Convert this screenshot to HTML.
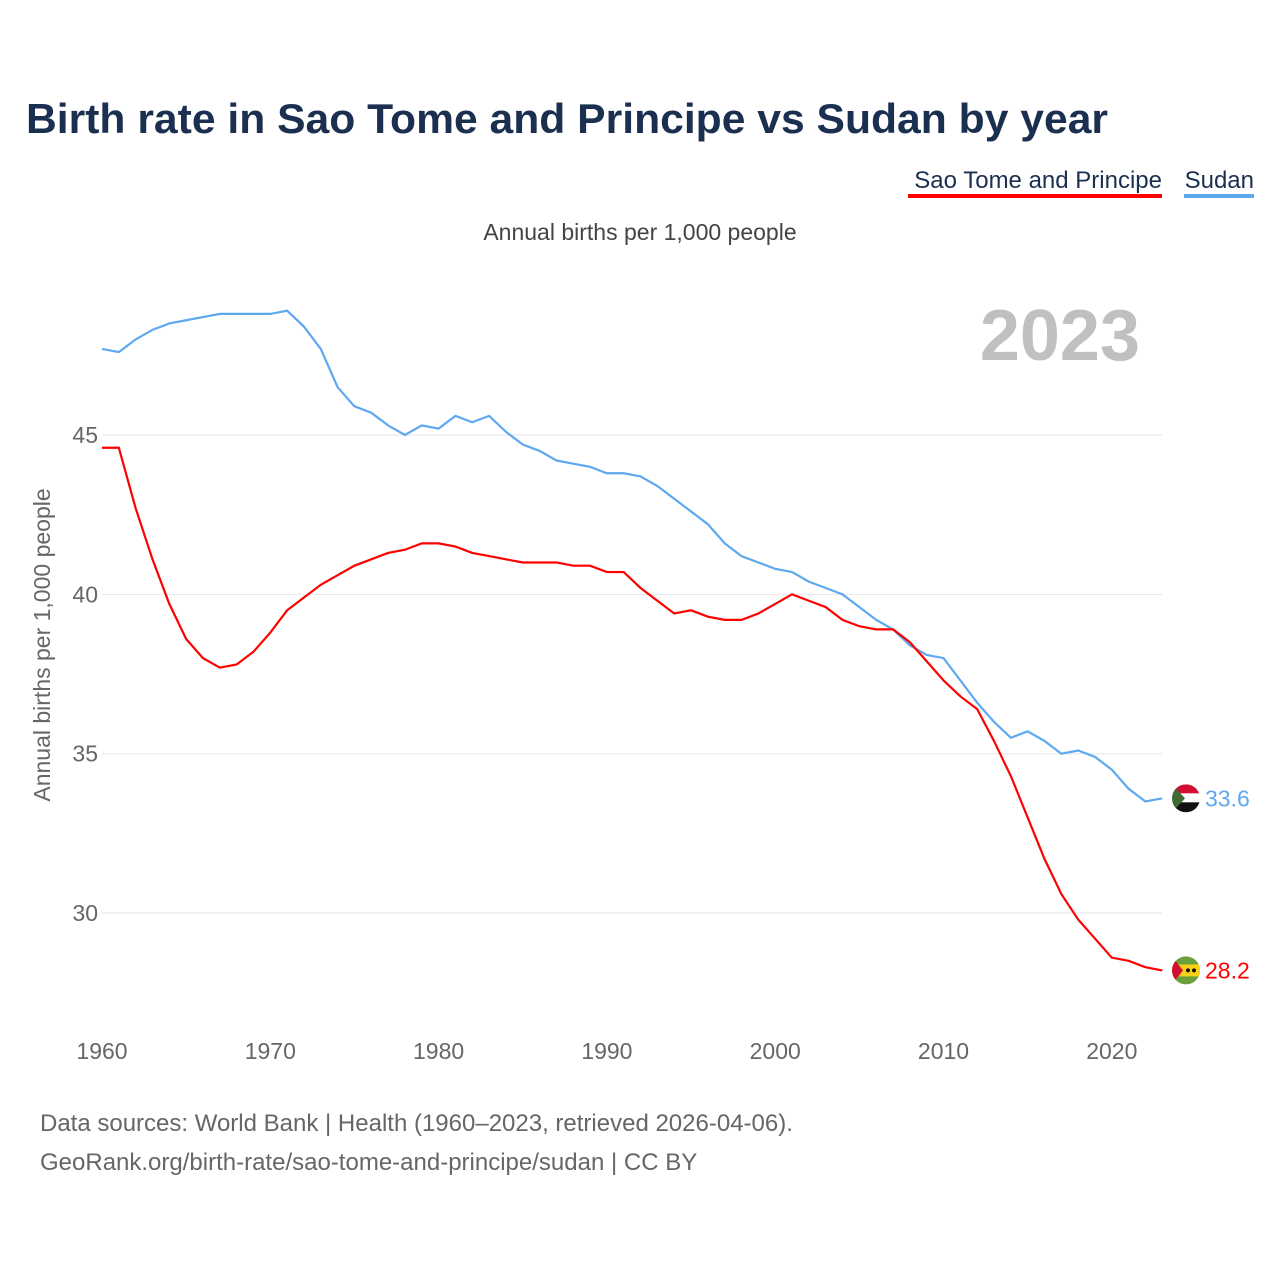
<!DOCTYPE html>
<html><head><meta charset="utf-8"><style>
body{margin:0;background:#fff;font-family:"Liberation Sans",sans-serif}
svg text{font-family:"Liberation Sans",sans-serif}
</style></head><body>
<svg id="chart" width="1280" height="1280" viewBox="0 0 1280 1280">
<defs>
<clipPath id="cs"><circle cx="1186" cy="798" r="14"/></clipPath>
<clipPath id="cp"><circle cx="1186" cy="970" r="14"/></clipPath>
</defs>
<text x="26" y="133" font-size="42" font-weight="bold" fill="#1b3050" textLength="1082" lengthAdjust="spacingAndGlyphs">Birth rate in Sao Tome and Principe vs Sudan by year</text>
<g><text x="1162" y="188" font-size="24" text-anchor="end" fill="#1b3050">Sao Tome and Principe</text><rect x="908" y="194" width="254" height="4" fill="#ff0000"/></g>
<g><text x="1254" y="188" font-size="24" text-anchor="end" fill="#1b3050">Sudan</text><rect x="1184" y="194" width="70" height="4" fill="#5ea8f0"/></g>
<text x="640" y="240" font-size="23" text-anchor="middle" fill="#444">Annual births per 1,000 people</text>
<text x="1140" y="360" font-size="72" font-weight="bold" text-anchor="end" fill="#c0c0c0">2023</text>
<text transform="translate(50,645) rotate(-90)" font-size="23" text-anchor="middle" fill="#666">Annual births per 1,000 people</text>
<g id="grid"></g><g id="xt"></g><g id="lines"></g>
<text x="40" y="1131" font-size="24" fill="#666">Data sources: World Bank | Health (1960–2023, retrieved 2026-04-06).</text>
<text x="40" y="1170" font-size="24" fill="#666">GeoRank.org/birth-rate/sao-tome-and-principe/sudan | CC BY</text>
</svg>
<script>
const years=[];for(let y=1960;y<=2023;y++)years.push(y);
const sudan=[47.7,47.6,48.0,48.3,48.5,48.6,48.7,48.8,48.8,48.8,48.8,48.9,48.4,47.7,46.5,45.9,45.7,45.3,45.0,45.3,45.2,45.6,45.4,45.6,45.1,44.7,44.5,44.2,44.1,44.0,43.8,43.8,43.7,43.4,43.0,42.6,42.2,41.6,41.2,41.0,40.8,40.7,40.4,40.2,40.0,39.6,39.2,38.9,38.4,38.1,38.0,37.3,36.6,36.0,35.5,35.7,35.4,35.0,35.1,34.9,34.5,33.9,33.5,33.6];
const stp=[44.6,44.6,42.7,41.1,39.7,38.6,38.0,37.7,37.8,38.2,38.8,39.5,39.9,40.3,40.6,40.9,41.1,41.3,41.4,41.6,41.6,41.5,41.3,41.2,41.1,41.0,41.0,41.0,40.9,40.9,40.7,40.7,40.2,39.8,39.4,39.5,39.3,39.2,39.2,39.4,39.7,40.0,39.8,39.6,39.2,39.0,38.9,38.9,38.5,37.9,37.3,36.8,36.4,35.4,34.3,33.0,31.7,30.6,29.8,29.2,28.6,28.5,28.3,28.2];
const yTicks=[30,35,40,45];
const xTicks=[1960,1970,1980,1990,2000,2010,2020];
const X=y=>102+(y-1960)*16.83, Y=v=>435-(v-45)*31.87;
const NS="http://www.w3.org/2000/svg";
function mk(t,a,p){const e=document.createElementNS(NS,t);for(const k in a)e.setAttribute(k,a[k]);p.appendChild(e);return e;}
const g=document.getElementById('grid'),xt=document.getElementById('xt'),L=document.getElementById('lines');
yTicks.forEach(v=>{const l=mk('line',{x1:102,x2:1162,y1:Y(v),y2:Y(v),stroke:'#e6e6e6'},g);


const t=mk('text',{x:98,y:Y(v)+8,'font-size':23,'text-anchor':'end',fill:'#666'},g);t.textContent=v;

});
xTicks.forEach(v=>{const t=mk('text',{x:X(v),y:1059,'font-size':23,'text-anchor':'middle',fill:'#666'},xt);t.textContent=v;

});
function flag(name,cy,kind){
const fg=mk('g',{},L);


const cid=kind==='sudan'?'cs':'cp';
document.getElementById(cid).firstElementChild.setAttribute('cy',cy);
const inner=mk('g',{'clip-path':'url(#'+cid+')'},fg);
const x0=1172,y0=cy-14;
if(kind==='sudan'){
mk('rect',{x:x0,y:y0,width:28,height:10,fill:'#d21034'},inner);
mk('rect',{x:x0,y:y0+9,width:28,height:10,fill:'#fff'},inner);
mk('rect',{x:x0,y:y0+18,width:28,height:10,fill:'#111'},inner);
mk('polygon',{points:x0+','+y0+' '+(x0+13)+','+cy+' '+x0+','+(y0+28),fill:'#3d6b33'},inner);
}else{
mk('rect',{x:x0,y:y0,width:28,height:28,fill:'#6aa13a'},inner);
mk('rect',{x:x0,y:y0+8,width:28,height:12,fill:'#f7d117'},inner);
mk('polygon',{points:x0+','+y0+' '+(x0+11)+','+cy+' '+x0+','+(y0+28),fill:'#d21034'},inner);
mk('circle',{cx:x0+16,cy:cy,r:2,fill:'#111'},inner);
mk('circle',{cx:x0+22,cy:cy,r:2,fill:'#111'},inner);
}}
function series(vals,col,name,kind){
const p=mk('polyline',{points:vals.map((v,i)=>X(years[i])+','+Y(v)).join(' '),fill:'none',stroke:col,'stroke-width':2.2},L);


const lv=vals[vals.length-1],cy=Y(lv);
flag(name,cy,kind);
const t=mk('text',{x:1205,y:cy+8,'font-size':23,fill:col},L);t.textContent=lv.toFixed(1);

}
series(sudan,'#5ea8f0','sudan','sudan');
series(stp,'#ff0000','stp','stp');
</script>
</body></html>
